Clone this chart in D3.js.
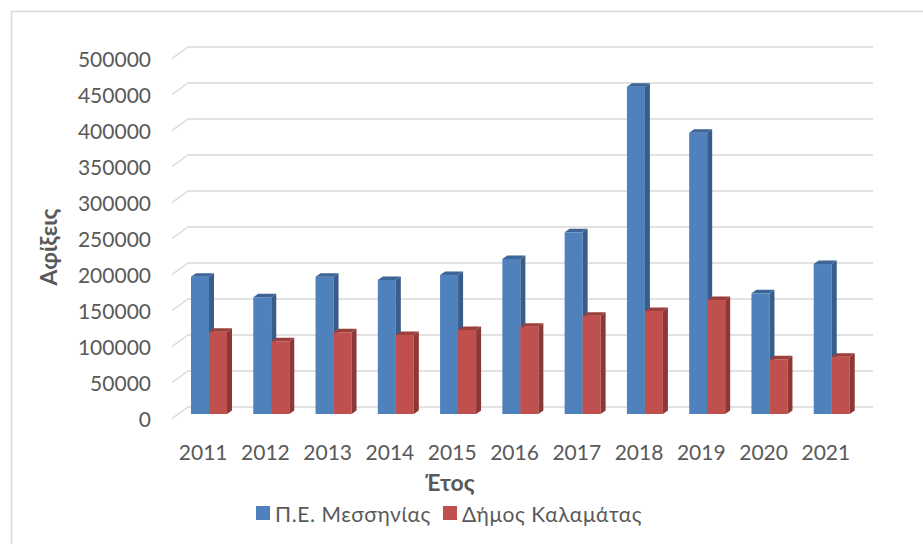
<!DOCTYPE html>
<html>
<head>
<meta charset="utf-8">
<script src="https://cdn.jsdelivr.net/npm/d3@7"></script>
<style>
  body { margin: 0; background: #fff; }
  text { font-family: Lato, "Open Sans", sans-serif; fill: #595959; }
</style>
</head>
<body>
<div id="chart"></div>
<script>
const years = ["2011", "2012", "2013", "2014", "2015", "2016", "2017", "2018", "2019", "2020", "2021"];
const messinia = [190700, 162100, 190700, 186100, 193000, 215300, 252300, 454600, 390700, 167600, 208300];
const kalamata = [114300, 101000, 113500, 109700, 116700, 121300, 136600, 143000, 158300, 76000, 79600];
const yTicks = [0, 50000, 100000, 150000, 200000, 250000, 300000, 350000, 400000, 450000, 500000];
const seriesNames = ["Π.Ε. Μεσσηνίας", "Δήμος Καλαμάτας"];

const width = 923, height = 544;
const wallDx = 16, wallDy = 11.5;   // depth of the back wall
const barDx = 5, barDy = 3.5;       // depth of each column

const svg = d3.select("#chart").append("svg")
    .attr("width", width)
    .attr("height", height);

// chart frame
svg.append("rect")
    .attr("x", 11.5).attr("y", 11.5)
    .attr("width", 940).attr("height", 560)
    .attr("fill", "none")
    .attr("stroke", "#d9d9d9")
    .attr("stroke-width", 1.5);

const x = d3.scaleBand().domain(years).range([172, 857]);
const yWall = d3.scaleLinear().domain([0, 500000]).range([407, 47]);
const yBar = d3.scaleLinear().domain([0, 500000]).range([414, 54]);

// gridlines on the back wall plus the slanted side edge
const grid = svg.append("g");
yTicks.forEach(t => {
    const yy = yWall(t);
    grid.append("path")
        .attr("d", `M${172},${yy + wallDy} L${172 + wallDx},${yy} L${857 + wallDx},${yy}`)
        .attr("fill", "none")
        .attr("stroke", "#d9d9d9")
        .attr("stroke-width", 1.5);
});

// y tick labels
svg.append("g").selectAll("text")
    .data(yTicks)
    .enter().append("text")
    .attr("x", 151)
    .attr("y", d => yWall(d) + wallDy)
    .attr("text-anchor", "end")
    .attr("dominant-baseline", "central")
    .style("font-size", "21px")
    .text(d => d);

// columns
const colors = [
    { front: "#4f81bd", side: "#385d8a", top: "#3d6597" },
    { front: "#c0504d", side: "#8c3836", top: "#9b3f3c" }
];
const barW = 18;
const bars = svg.append("g");

function drawBar(x0, value, c) {
    const y0 = yBar(0), y1 = yBar(value);
    bars.append("rect")
        .attr("x", x0).attr("y", y1)
        .attr("width", barW).attr("height", y0 - y1)
        .attr("fill", c.front);
    bars.append("path")
        .attr("d", `M${x0 + barW},${y1} L${x0 + barW + barDx},${y1 - barDy} L${x0 + barW + barDx},${y0 - barDy} L${x0 + barW},${y0}Z`)
        .attr("fill", c.side);
    bars.append("path")
        .attr("d", `M${x0},${y1} L${x0 + barDx},${y1 - barDy} L${x0 + barW + barDx},${y1 - barDy} L${x0 + barW},${y1}Z`)
        .attr("fill", c.top);
}

years.forEach((yr, i) => {
    const bx = x(yr) + 19;
    drawBar(bx, messinia[i], colors[0]);
    drawBar(bx + barW, kalamata[i], colors[1]);
});

// x labels
svg.append("g").selectAll("text")
    .data(years)
    .enter().append("text")
    .attr("x", d => x(d) + x.bandwidth() / 2)
    .attr("y", 451)
    .attr("text-anchor", "middle")
    .attr("dominant-baseline", "central")
    .style("font-size", "21px")
    .text(d => d);

// axis titles
svg.append("text")
    .attr("x", 450).attr("y", 482)
    .attr("text-anchor", "middle")
    .attr("dominant-baseline", "central")
    .style("font-size", "23px")
    .style("font-weight", "bold")
    .text("Έτος");

svg.append("text")
    .attr("transform", "translate(48,247) rotate(-90)")
    .attr("text-anchor", "middle")
    .attr("dominant-baseline", "central")
    .style("font-size", "23px")
    .style("font-weight", "bold")
    .text("Αφίξεις");

// legend
const legend = svg.append("g");
const legendX = [256, 443];
seriesNames.forEach((name, i) => {
    legend.append("rect")
        .attr("x", legendX[i]).attr("y", 506)
        .attr("width", 14).attr("height", 14)
        .attr("fill", colors[i].front);
    legend.append("text")
        .attr("x", legendX[i] + 19).attr("y", 513)
        .attr("dominant-baseline", "central")
        .style("font-size", "21px")
        .style("letter-spacing", "0.6px")
        .text(name);
});
</script>
</body>
</html>
